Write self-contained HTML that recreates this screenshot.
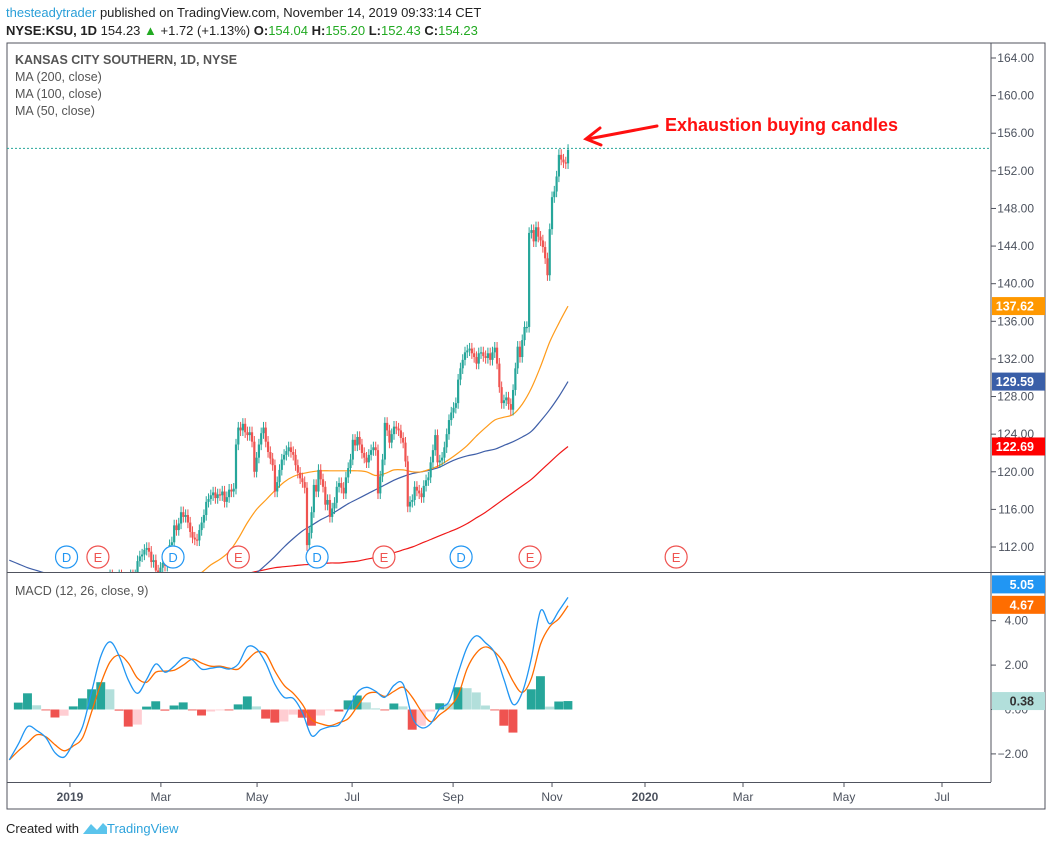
<!DOCTYPE html>
<html><head><meta charset="utf-8">
<style>
html,body{margin:0;padding:0;background:#fff;}
svg{display:block;font-family:"Liberation Sans",sans-serif;}
</style></head>
<body>
<svg id="chart" width="1051" height="846" viewBox="0 0 1051 846">
  <defs>
    <clipPath id="priceClip"><rect x="7" y="43" width="984" height="529"/></clipPath>
    <clipPath id="macdClip"><rect x="7" y="573" width="984" height="209"/></clipPath>
  </defs>
  <text x="6" y="17" font-size="13" fill="#222"><tspan fill="#2a9fd8">thesteadytrader</tspan> published on TradingView.com, November 14, 2019 09:33:14 CET</text>
  <text x="6" y="35" font-size="13" fill="#222"><tspan font-weight="bold">NYSE:KSU, 1D</tspan> 154.23 <tspan fill="#22aa22">▲</tspan> +1.72 (+1.13%) <tspan font-weight="bold">O:</tspan><tspan fill="#22aa22">154.04</tspan> <tspan font-weight="bold">H:</tspan><tspan fill="#22aa22">155.20</tspan> <tspan font-weight="bold">L:</tspan><tspan fill="#22aa22">152.43</tspan> <tspan font-weight="bold">C:</tspan><tspan fill="#22aa22">154.23</tspan></text>

  <rect x="7" y="43" width="1038" height="766" fill="none" stroke="#50535e" stroke-width="1"/>
  <line x1="991" y1="43" x2="991" y2="782" stroke="#50535e"/>
  <line x1="7" y1="572.5" x2="1045" y2="572.5" stroke="#50535e"/>
  <line x1="7" y1="782.5" x2="991" y2="782.5" stroke="#50535e"/>

  <g id="priceAxis"></g>
  <g id="macdAxis"></g>
  <g id="timeAxis"></g>
  <g id="pricePane" clip-path="url(#priceClip)"></g>
  <g id="macdPane" clip-path="url(#macdClip)"></g>
  <g id="badges"></g>

  <text x="15" y="64" font-size="12.5" font-weight="bold" fill="#555">KANSAS CITY SOUTHERN, 1D, NYSE</text>
  <text x="15" y="81" font-size="12.5" fill="#555">MA (200, close)</text>
  <text x="15" y="98" font-size="12.5" fill="#555">MA (100, close)</text>
  <text x="15" y="115" font-size="12.5" fill="#555">MA (50, close)</text>
  <text x="15" y="595" font-size="12.5" fill="#555">MACD (12, 26, close, 9)</text>

  <text x="665" y="131" font-size="18" font-weight="bold" fill="#ff1010">Exhaustion buying candles</text>
  <g stroke="#ff1010" stroke-width="3" fill="none" stroke-linecap="round">
    <line x1="657" y1="126" x2="588" y2="139"/>
    <polyline points="600,128 586,139 601,145"/>
  </g>

  <text x="6" y="833" font-size="13" fill="#222">Created with</text>
  <g>
    <path d="M83 834 L91 824 L97 830 L103 823 L107 827 L107 834 Z" fill="#5bc4ec"/>
    <text x="107" y="833" font-size="13" fill="#2ea3dc">TradingView</text>
  </g>
</svg>
<script>
// ---------- DATA ----------
const closes = [
104,103,104,102,101,103,102,100,99,100,101,
99,98,97,96,97,95,94,93,94,95,97,96,98,99,98,100,101,
102,103,102,104,105,104,106,105,107,106,107,108,107,106,108,107,108,109,108,107,108,109,108,
108,107,108,109,108,109,
110.5,111,111.2,111.7,111.9,111.5,110.4,110.6,109.5,109.3,109.8,110.3,110,111,112.2,112.5,114.3,113.8,114.5,115.7,
115.2,115.4,114.6,113.6,113,112.8,112.7,113.8,114.6,115.4,116.8,117.1,117.5,117.8,117.2,117.6,117.5,117.9,116.8,117.3,
118.1,117.9,118.2,122.9,124.7,124.4,125.1,124.2,123.9,124.2,123.2,120,121.5,122.9,124.1,124.7,123.2,122.1,121.4,120.7,
117.9,118.9,120.2,121.3,121.8,122.2,122.6,122.1,121.8,120.7,119.9,119.3,118.9,118.3,112.2,113.5,115.7,118.6,117.9,120.2,
119.2,118.4,116.5,117,115.2,116.1,116.7,118.4,118.8,118.3,117.7,119.4,120.4,121.3,123.4,122.8,123.7,122.9,122,121.5,
121,121.8,122.3,122.6,122.3,117.7,119.5,121.3,125.2,124.4,123.1,124,124.8,124.6,124.4,123.6,123.1,121.1,116.3,116.8,
117,118.4,118,117.7,117.3,118.5,119.1,119.4,121,122.3,123.9,121,121.2,121.5,122.6,124,125.5,126.3,126.8,127.3,
129.8,131,131.9,132.7,132.9,133.1,132.6,132.2,131.5,132.6,132.7,132.3,132.1,132.6,131.9,132.7,133.2,131.5,129,127.3,
127.6,127.9,127.2,126.6,128.7,131,133.3,132.2,134,135.4,135.4,145.4,145.7,144.5,146,145,144.6,143.9,142.7,140.9,
145.8,149.2,149.8,151.4,153.7,153.2,152.9,152.8,154.23
];
// indicator samples every 4 bars (bars 1,5,9,...,245)
const ma50 = [108.5,108,107.5,107,106.5,106,105.5,105,104.8,104.6,104.5,104.5,104.6,104.8,105.2,105.7,106.3,107,107.6,108.2,108.8,
109.3,110.1,110.7,111.5,112.9,114.6,116,117,118,118.9,119.5,119.8,120,120.1,120.1,120.1,120.1,120.1,120,119.6,119.8,120.2,120.2,120,120,
120.3,120.7,121.3,122,122.8,123.8,124.7,125.5,125.8,126.1,127.2,128.9,131.2,133.8,135.8,137.62];
const ma100 = [110.6,110.2,109.8,109.5,109.2,108.9,108.6,108.3,108,107.8,107.6,107.4,107.3,107.2,107.1,107.1,107.2,107.3,107.5,107.7,107.9,
108.1,108.3,108.5,108.7,108.9,109.1,109.3,110.1,111,112,112.9,113.7,114.3,114.9,115.4,116,116.6,117.1,117.6,118.1,118.6,119.1,119.5,119.8,
120,120.2,120.5,121,121.4,121.7,121.9,122.2,122.4,122.8,123.2,123.7,124.3,125.4,126.6,128,129.59];
const ma200 = [108.6,108.5,108.4,108.3,108.2,108.1,108,107.9,107.8,107.7,107.6,107.5,107.5,107.5,107.6,107.7,107.8,107.9,108,108.1,108.2,
108.4,108.6,108.8,109,109.1,109.2,109.4,109.6,109.8,109.9,110,110.1,110.15,110.2,110.3,110.3,110.4,110.5,110.7,110.9,111.2,111.4,111.7,
112,112.4,112.8,113.2,113.6,114,114.5,115.1,115.7,116.4,117.1,117.8,118.5,119.2,120.1,121,121.9,122.69];
const macdLine = [-2.27,-1.55,-0.77,-0.95,-1.27,-1.95,-2.14,-1.5,-0.77,0.82,2.41,3.05,2.4,1.32,0.73,1.36,2.05,1.68,1.95,2.32,2.23,
1.82,1.86,1.91,1.82,2.05,2.82,2.73,2.09,1.14,0.55,0.5,-0.14,-1.18,-0.91,-0.77,-0.68,0,0.77,1.0,0.82,0.55,1.09,1.14,-0.36,-0.82,
-0.64,0.05,0.36,1.64,2.82,3.32,3.0,2.55,1.36,0.23,0.77,2.32,4.45,3.86,4.45,5.05];
const signalLine = [-2.27,-1.86,-1.5,-1.14,-1.23,-1.59,-1.86,-1.64,-1.27,-0.09,1.18,2.14,2.45,2.09,1.41,1.23,1.68,1.73,1.77,2.0,2.27,
2.09,1.95,1.95,1.86,1.82,2.23,2.59,2.5,1.73,1.09,0.73,0.23,-0.45,-0.64,-0.73,-0.59,-0.41,0.14,0.68,0.77,0.59,0.82,1.0,0.55,-0.09,
-0.55,-0.23,0.09,0.64,1.86,2.55,2.82,2.59,2.09,1.27,0.77,1.41,2.95,3.73,4.09,4.67];
const priceTicks = [164,160,156,152,148,144,140,136,132,128,124,120,116,112];
const macdTicks = [4,2,0,-2];
const timeLabels = ["2019","Mar","May","Jul","Sep","Nov","2020","Mar","May","Jul"];
const timeIdx = [27.5,67.2,109.2,150.7,194.8,238,278.6,321.4,365.5,408.3];
const dividendIdx = [26,72.5,135.4,198.3];
const earningsIdx = [39.7,101,164.6,228.4,292.2];

// ---------- SCALES ----------
const NS = "http://www.w3.org/2000/svg";
const xOf = i => 7 + 2.29 * i;
const yP = p => 58 + (164 - p) * (489 / 52);
const yM = v => 709.5 - v * 22.2;
const sampleBar = k => 1 + 4 * k;
function mk(tag, attrs, parent){
  const e = document.createElementNS(NS, tag);
  for (const k in attrs) e.setAttribute(k, attrs[k]);
  parent.appendChild(e); return e;
}
function smoothPath(pts){
  let d = 'M' + pts[0][0].toFixed(1) + ',' + pts[0][1].toFixed(1);
  for (let i = 0; i < pts.length - 1; i++){
    const p0 = pts[Math.max(0, i - 1)], p1 = pts[i], p2 = pts[i + 1], p3 = pts[Math.min(pts.length - 1, i + 2)];
    const c1x = p1[0] + (p2[0] - p0[0]) / 6, c1y = p1[1] + (p2[1] - p0[1]) / 6;
    const c2x = p2[0] - (p3[0] - p1[0]) / 6, c2y = p2[1] - (p3[1] - p1[1]) / 6;
    d += ' C' + c1x.toFixed(1) + ',' + c1y.toFixed(1) + ' ' + c2x.toFixed(1) + ',' + c2y.toFixed(1) + ' ' + p2[0].toFixed(1) + ',' + p2[1].toFixed(1);
  }
  return d;
}
const pricePane = document.getElementById('pricePane');
const macdPane = document.getElementById('macdPane');
const priceAxis = document.getElementById('priceAxis');
const macdAxis = document.getElementById('macdAxis');
const timeAxis = document.getElementById('timeAxis');
const badges = document.getElementById('badges');

priceTicks.forEach(p => {
  const y = yP(p);
  const t = mk('line', {x1:991, x2:996, y1:y, y2:y, stroke:'#50535e'}, priceAxis);
  
  
  const l = mk('text', {x:1034, y:y+4, 'font-size':12, fill:'#4c525e', 'text-anchor':'end'}, priceAxis);
  l.textContent = p.toFixed(2);
  
  
});
macdTicks.forEach(v => {
  const y = yM(v);
  const t = mk('line', {x1:991, x2:996, y1:y, y2:y, stroke:'#50535e'}, macdAxis);
  
  
  const l = mk('text', {x:1028, y:y+4, 'font-size':12, fill:'#4c525e', 'text-anchor':'end'}, macdAxis);
  l.textContent = (v < 0 ? '\u2212' + Math.abs(v).toFixed(2) : v.toFixed(2));
  
  
});
timeLabels.forEach((s, j) => {
  const x = xOf(timeIdx[j]);
  const t = mk('line', {x1:x, x2:x, y1:782, y2:787, stroke:'#50535e'}, timeAxis);
  
  
  const l = mk('text', {x:x, y:801, 'font-size':12, fill:'#4c525e', 'text-anchor':'middle'}, timeAxis);
  if (/^\d{4}$/.test(s)) l.setAttribute('font-weight', 'bold');
  l.textContent = s;
  
  
});

function maLine(arr, color, name){
  const pts = arr.map((v, k) => [xOf(sampleBar(k)), yP(v)]);
  const pl = mk('path', {d:smoothPath(pts), fill:'none', stroke:color, 'stroke-width':1.2}, pricePane);
  
  
}
maLine(ma200, '#f01818', 'ma200-line');
maLine(ma100, '#3f5fa8', 'ma100-line');
maLine(ma50, '#ff9b1a', 'ma50-line');

closes.forEach((c, i) => {
  const o = i === 0 ? c : closes[i - 1];
  const up = c >= o;
  const col = up ? '#26a69a' : '#ef5350';
  const hi = Math.max(o, c) + 0.6, lo = Math.min(o, c) - 0.6;
  const x = xOf(i);
  const g = mk('g', {}, pricePane);
  
  
  mk('line', {x1:x, x2:x, y1:yP(hi), y2:yP(lo), stroke:col, 'stroke-width':1}, g);
  const yt = yP(Math.max(o, c)), yb = yP(Math.min(o, c));
  mk('rect', {x:x - 1.1, y:yt, width:2.2, height:Math.max(1.2, yb - yt), fill:col}, g);
});

const lastY = yP(closes[closes.length - 1]) - 1.5;
const pl = mk('line', {x1:7, x2:991, y1:lastY, y2:lastY, stroke:'#26a69a', 'stroke-width':1, 'stroke-dasharray':'2,2'}, pricePane);



function marker(idx, letter, color, name){
  const g = mk('g', {}, pricePane);
  
  
  const x = xOf(idx);
  mk('circle', {cx:x, cy:557, r:11, fill:'#fff', stroke:color, 'stroke-width':1.2}, g);
  const t = mk('text', {x:x, y:562, 'font-size':13, fill:color, 'text-anchor':'middle'}, g);
  t.textContent = letter;
}
dividendIdx.forEach(i => marker(i, 'D', '#2196f3', 'dividend-marker'));
earningsIdx.forEach(i => marker(i, 'E', '#ef5350', 'earnings-marker'));

const hist = macdLine.map((m, k) => m - signalLine[k]);
hist.forEach((h, k) => {
  const prev = k === 0 ? h : hist[k - 1];
  let col;
  if (h >= 0) col = h >= prev ? '#26a69a' : '#b2dfdb';
  else col = h <= prev ? '#ef5350' : '#ffcdd2';
  const x = xOf(sampleBar(k)) - 4.58;
  const y0 = yM(0), y1 = yM(h);
  const r = mk('rect', {x:x, y:Math.min(y0, y1), width:8.9, height:Math.abs(y1 - y0), fill:col}, macdPane);
  
  
});
function mline(arr, color, name){
  const pts = arr.map((v, k) => [xOf(sampleBar(k)), yM(v)]);
  const p = mk('path', {d:smoothPath(pts), fill:'none', stroke:color, 'stroke-width':1.3}, macdPane);
  
  
}
mline(signalLine, '#ff6d00', 'signal-line');
mline(macdLine, '#2196f3', 'macd-line');

function badge(y, text, bg, fg, name){
  const g = mk('g', {}, badges);
  
  
  mk('rect', {x:992, y:y - 9, width:53, height:18, fill:bg}, g);
  const t = mk('text', {x:1034, y:y + 4.5, 'font-size':12.5, 'font-weight':'bold', fill:fg, 'text-anchor':'end'}, g);
  t.textContent = text;
}
badge(yP(ma50[ma50.length - 1]), ma50[ma50.length - 1].toFixed(2), '#ff9800', '#fff', 'ma50-badge');
badge(yP(ma100[ma100.length - 1]), ma100[ma100.length - 1].toFixed(2), '#3a5fa8', '#fff', 'ma100-badge');
badge(yP(ma200[ma200.length - 1]), ma200[ma200.length - 1].toFixed(2), '#ff0000', '#fff', 'ma200-badge');
const lm = macdLine[macdLine.length - 1], ls = signalLine[signalLine.length - 1];
badge(yM(lm) - 13, lm.toFixed(2), '#2196f3', '#fff', 'macd-badge');
badge(yM(ls) - 1, ls.toFixed(2), '#ff6d00', '#fff', 'signal-badge');
badge(yM(lm - ls), (lm - ls).toFixed(2), '#b2dfdb', '#333', 'histogram-badge');
</script>
</body></html>
